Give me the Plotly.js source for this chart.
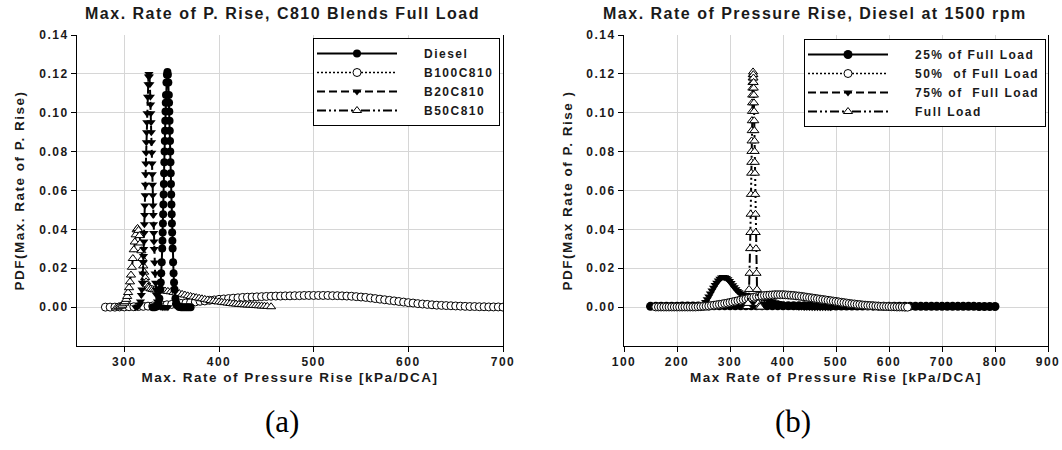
<!DOCTYPE html>
<html><head><meta charset="utf-8">
<script src="https://cdn.plot.ly/plotly-3.0.1.min.js"></script>
<style>
html,body{margin:0;padding:0;background:#fff;}
#chart{width:1062px;height:450px;}
svg text{letter-spacing:1.5px;}
</style></head><body><div id="chart"></div><script>
// ---------- (a) C810 blends, full load ----------
const dieselX = [330,332,334,336,337,338,338.5,339,339.5,340,340.25,340.5,340.75,341,341.25,341.5,341.75,342,342.25,342.5,342.75,343,343.25,343.5,343.75,344,344.5,345,345.5,346,346.5,347,347.25,347.5,347.75,348,348.25,348.5,348.75,349,349.25,349.5,349.75,350,350.25,350.5,350.75,351,351.5,352,352.5,353,354,355,356,358,360,362,364,366,368,370];
const dieselY = [0,0,0.0003,0.0019,0.0044,0.0091,0.0127,0.0174,0.0231,0.0301,0.0341,0.0384,0.0430,0.0478,0.0528,0.0580,0.0634,0.0689,0.0745,0.0801,0.0855,0.0908,0.0959,0.1007,0.1051,0.1091,0.1156,0.1196,0.1210,0.1196,0.1156,0.1091,0.1051,0.1007,0.0959,0.0908,0.0855,0.0801,0.0745,0.0689,0.0634,0.0580,0.0528,0.0478,0.0430,0.0384,0.0341,0.0301,0.0231,0.0174,0.0127,0.0091,0.0044,0.0019,0.0008,0.0001,0,0,0,0,0,0];

const b100X = [280,285,290,295,300,305,310,315,320,325,330,335,340,345,350,355,360,365,370,375,380,385,390,395,400,405,410,415,420,425,430,435,440,445,450,455,460,465,470,475,480,485,490,495,500,505,510,515,520,525,530,535,540,545,550,555,560,565,570,575,580,585,590,595,600,605,610,615,620,625,630,635,640,645,650,655,660,665,670,675,680,685,690,695,700];
const b100Y = [0,0,0,0.0001,0.0001,0.0002,0.0002,0.0003,0.0004,0.0005,0.0006,0.0008,0.0010,0.0012,0.0014,0.0016,0.0019,0.0021,0.0024,0.0027,0.0030,0.0032,0.0035,0.0037,0.0040,0.0042,0.0044,0.0046,0.0048,0.0050,0.0051,0.0052,0.0053,0.0054,0.0055,0.0056,0.0057,0.0057,0.0058,0.0058,0.0059,0.0059,0.0060,0.0060,0.0060,0.0060,0.0060,0.0060,0.0059,0.0059,0.0058,0.0057,0.0056,0.0054,0.0052,0.0050,0.0047,0.0044,0.0041,0.0038,0.0035,0.0032,0.0029,0.0026,0.0023,0.0021,0.0018,0.0016,0.0014,0.0012,0.0010,0.0009,0.0008,0.0007,0.0006,0.0005,0.0004,0.0003,0.0003,0.0002,0.0002,0.0001,0.0001,0.0001,0];

const b20X = [312,314,316,317,318,318.5,319,319.5,320,320.25,320.5,320.75,321,321.25,321.5,321.75,322,322.25,322.5,322.75,323,323.25,323.5,323.75,324,324.5,325,325.5,326,326.5,327,327.5,327.75,328,328.25,328.5,328.75,329,329.25,329.5,329.75,330,330.25,330.5,330.75,331,331.25,331.5,332,332.5,333,333.5,334,335,336,338,340,342,344,346];
const b20Y = [0,0.0002,0.0012,0.0029,0.0063,0.0091,0.0126,0.0173,0.0229,0.0263,0.0299,0.0338,0.0381,0.0426,0.0474,0.0523,0.0576,0.0629,0.0684,0.0739,0.0794,0.0848,0.0900,0.0951,0.0998,0.1082,0.1146,0.1187,0.1200,0.1187,0.1146,0.1082,0.1043,0.0998,0.0951,0.0900,0.0848,0.0794,0.0739,0.0684,0.0629,0.0576,0.0523,0.0474,0.0426,0.0381,0.0338,0.0299,0.0229,0.0173,0.0126,0.0091,0.0063,0.0029,0.0012,0.0002,0,0,0,0];

const b50X = [292,294,296,298,300,301,302,303,304,305,306,307,308,309,310,311,312,313,314,315,316,317,318,319,320,321,322,323,324,325,326,328,330,332,334,336,338,340,343,346,349,352,355,358,361,364,367,370,373,376,379,382,385,388,391,394,397,400,403,406,409,412,415,418,421,424,427,430,433,436,439,442,445,448,451,455];
const b50Y = [0,0.0002,0.0005,0.0010,0.0020,0.0028,0.0040,0.0055,0.0075,0.0100,0.0130,0.0165,0.0205,0.0250,0.0295,0.0335,0.0372,0.0398,0.0405,0.0395,0.0368,0.0330,0.0290,0.0250,0.0212,0.0180,0.0152,0.0130,0.0115,0.0104,0.0098,0.0094,0.0091,0.0089,0.0088,0.0087,0.0086,0.0085,0.0083,0.0081,0.0079,0.0076,0.0073,0.0070,0.0066,0.0062,0.0058,0.0055,0.0052,0.0049,0.0046,0.0043,0.0040,0.0037,0.0034,0.0031,0.0029,0.0027,0.0025,0.0023,0.0021,0.0019,0.0017,0.0016,0.0014,0.0013,0.0012,0.0011,0.0010,0.0009,0.0008,0.0007,0.0006,0.0005,0.0004,0.0002];

// ---------- (b) Diesel at 1500 rpm ----------
const q25X = [150,160,170,180,190,200,210,220,230,240,250,260,270,280,290,300,310,320,330,340,350,360,370,380,390,400,410,420,430,440,450,460,470,480,490,500,510,520,530,540,550,560,570,580,590,600,610,620,630,640,650,660,670,680,690,700,710,720,730,740,750,760,770,780,790,800];
const q25Y = [0.0004,0.0004,0.0005,0.0005,0.0005,0.0005,0.0006,0.0006,0.0006,0.0006,0.0006,0.0006,0.0007,0.0007,0.0007,0.0007,0.0007,0.0007,0.0007,0.0007,0.0007,0.0007,0.0007,0.0007,0.0007,0.0007,0.0007,0.0007,0.0007,0.0007,0.0007,0.0007,0.0007,0.0007,0.0006,0.0006,0.0006,0.0006,0.0006,0.0006,0.0006,0.0006,0.0005,0.0005,0.0005,0.0005,0.0005,0.0005,0.0005,0.0005,0.0004,0.0004,0.0004,0.0004,0.0004,0.0004,0.0004,0.0004,0.0004,0.0004,0.0004,0.0004,0.0003,0.0003,0.0003,0.0003];

const q50X = [160,165,170,175,180,185,190,195,200,205,210,215,220,225,230,235,240,245,250,255,260,265,270,275,280,285,290,295,300,305,310,315,320,325,330,335,340,345,350,355,360,365,370,375,380,385,390,395,400,405,410,415,420,425,430,435,440,445,450,455,460,465,470,475,480,485,490,495,500,505,510,515,520,525,530,535,540,545,550,555,560,565,570,575,580,585,590,595,600,605,610,615,620,625,630,635];
const q50Y = [0.0001,0.0001,0.0001,0.0001,0.0001,0.0001,0.0001,0.0001,0.0001,0.0001,0.0001,0.0001,0.0001,0.0001,0.0001,0.0001,0.0002,0.0003,0.0004,0.0005,0.0006,0.0008,0.0010,0.0012,0.0014,0.0016,0.0019,0.0021,0.0024,0.0027,0.0030,0.0033,0.0036,0.0039,0.0042,0.0045,0.0048,0.0051,0.0054,0.0056,0.0058,0.0060,0.0061,0.0062,0.0063,0.0064,0.0064,0.0064,0.0064,0.0063,0.0062,0.0061,0.0060,0.0058,0.0057,0.0055,0.0053,0.0051,0.0049,0.0047,0.0045,0.0043,0.0041,0.0039,0.0037,0.0035,0.0033,0.0031,0.0029,0.0027,0.0025,0.0023,0.0021,0.0019,0.0017,0.0016,0.0014,0.0013,0.0011,0.0010,0.0009,0.0008,0.0007,0.0006,0.0005,0.0004,0.0004,0.0003,0.0003,0.0002,0.0002,0.0001,0.0001,0.0001,0,0];

const q75X = [245,248,251,254,257,260,263,266,269,272,275,278,281,284,287,290,293,296,299,302,305,308,311,314,317,320,323,326,329,332,335,338,341,344,347,350,355,360,365,370,375,380,385,390,395,400,405,410,415,420,425,430,435,440,445,450,455,460,465,470,475,480,485,490];
const q75Y = [0,0.0005,0.0015,0.0027,0.0040,0.0055,0.0070,0.0085,0.0100,0.0114,0.0126,0.0137,0.0146,0.0152,0.0155,0.0154,0.0150,0.0143,0.0134,0.0124,0.0113,0.0102,0.0092,0.0083,0.0076,0.0070,0.0066,0.0063,0.0061,0.0060,0.0059,0.0058,0.0057,0.0056,0.0055,0.0054,0.0051,0.0048,0.0044,0.0040,0.0035,0.0030,0.0025,0.0021,0.0017,0.0013,0.0010,0.0007,0.0005,0.0004,0.0003,0.0002,0.0002,0.0001,0.0001,0.0001,0,0,0,0,0,0,0,0];

const fullX = [332,334,336,337,338,338.5,339,339.5,340,340.25,340.5,340.75,341,341.25,341.5,341.75,342,342.25,342.5,342.75,343,343.5,344,344.25,344.5,344.75,345,345.25,345.5,345.75,346,346.25,346.5,346.75,347,347.5,348,348.5,349,350,351,353,355,357];
const fullY = [0.0003,0.0019,0.0091,0.0174,0.0301,0.0384,0.0478,0.0580,0.0689,0.0745,0.0801,0.0855,0.0908,0.0959,0.1007,0.1051,0.1091,0.1127,0.1156,0.1179,0.1196,0.1210,0.1196,0.1179,0.1156,0.1127,0.1091,0.1051,0.1007,0.0959,0.0908,0.0855,0.0801,0.0745,0.0689,0.0580,0.0478,0.0384,0.0301,0.0174,0.0091,0.0019,0.0003,0];

const namesA = ['Diesel','B100C810','B20C810','B50C810'];
const namesB = ['25% of Full Load','50%  of Full Load','75% of  Full Load','Full Load'];
const yTicks = [0,0.02,0.04,0.06,0.08,0.10,0.12,0.14];
const xTicksA = [300,400,500,600,700];
const xTicksB = [100,200,300,400,500,600,700,800,900];

const F = '"Liberation Sans", Arial, sans-serif';
const bold = (s)=>({family:F,size:s,color:'#1a1a1a',weight:'bold'});
const solidCircle = {symbol:'circle',size:8,color:'#000'};
const openCircle = {symbol:'circle',size:8,color:'#fff',line:{color:'#000',width:1}};
const downTri = {symbol:'triangle-down',size:8,color:'#000'};
const upTri = {symbol:'triangle-up',size:8,color:'#fff',line:{color:'#000',width:1}};
const DOT='2px,2px', DASH='8px,4px', DASHDOTDOT='9px,3px,2px,3px,2px,3px';

function tr(x,y,name,xa,ya,leg,rank,dash,marker,lw){
  return {x:x,y:y,name:name,xaxis:xa,yaxis:ya,legend:leg,legendrank:rank,type:'scatter',mode:'lines+markers',
    line:{color:'#000',width:lw||2,dash:dash},marker:marker,cliponaxis:true};
}
const data = [
  tr(b100X,b100Y,namesA[1],'x','y','legend',2,DOT,openCircle,1.5),
  tr(b50X,b50Y,namesA[3],'x','y','legend',4,DASHDOTDOT,upTri),
  tr(b20X,b20Y,namesA[2],'x','y','legend',3,DASH,downTri),
  tr(dieselX,dieselY,namesA[0],'x','y','legend',1,'solid',solidCircle),
  tr(q25X,q25Y,namesB[0],'x2','y2','legend2',1,'solid',Object.assign({},solidCircle,{size:9})),
  tr(q75X,q75Y,namesB[2],'x2','y2','legend2',3,DASH,downTri),
  tr(q50X,q50Y,namesB[1],'x2','y2','legend2',2,DOT,openCircle,1.5),
  tr(fullX,fullY,namesB[3],'x2','y2','legend2',4,DASHDOTDOT,upTri)
];

const W=1062,H=450;
const px=(v)=>v/W, py=(v)=>1-v/H;
const axBase = {showline:true,linecolor:'#000',linewidth:1,ticks:'outside',ticklen:5,tickcolor:'#000',
  showgrid:true,gridcolor:'#d6d6d6',gridwidth:1,zeroline:false,tickfont:bold(12),fixedrange:true};
const legBase = {bgcolor:'#fff',bordercolor:'#000',borderwidth:1,font:bold(12),itemwidth:100,
  xanchor:'right',yanchor:'top',traceorder:'normal',tracegroupgap:0};

const layout = {
  width:W,height:H,margin:{l:0,r:0,t:0,b:0},paper_bgcolor:'#fff',plot_bgcolor:'#fff',showlegend:true,hovermode:false,
  xaxis:Object.assign({},axBase,{domain:[px(77),px(503)],range:[250,700],tickvals:xTicksA,anchor:'y',
    title:{text:'Max. Rate of Pressure Rise [kPa/DCA]',font:bold(13.5),standoff:4}}),
  yaxis:Object.assign({},axBase,{domain:[py(346),py(35)],range:[-0.02,0.14],tickvals:yTicks,tickformat:'.2f',anchor:'x',mirror:true,
    title:{text:'PDF(Max. Rate of P. Rise)',font:bold(13.5),standoff:11}}),
  xaxis2:Object.assign({},axBase,{domain:[px(624),px(1048)],range:[100,900],tickvals:xTicksB,anchor:'y2',
    title:{text:'Max Rate of Pressure Rise [kPa/DCA]',font:bold(13.5),standoff:4}}),
  yaxis2:Object.assign({},axBase,{domain:[py(346),py(35)],range:[-0.02,0.14],tickvals:yTicks,tickformat:'.2f',anchor:'x2',mirror:true,
    title:{text:'PDF(Max Rate of P. Rise )',font:bold(13.5),standoff:10}}),
  legend:Object.assign({},legBase,{x:px(500),y:py(38)}),
  legend2:Object.assign({},legBase,{x:px(1046),y:py(39)}),
  annotations:[
    {text:'Max. Rate of P. Rise, C810 Blends Full Load',xref:'paper',yref:'paper',x:px(282),y:py(14),showarrow:false,font:bold(16),xanchor:'center',yanchor:'middle'},
    {text:'Max. Rate of Pressure Rise, Diesel at 1500 rpm',xref:'paper',yref:'paper',x:px(815),y:py(14),showarrow:false,font:bold(16),xanchor:'center',yanchor:'middle'},
    {text:'<span style="letter-spacing:0px">(a)</span>',xref:'paper',yref:'paper',x:px(282),y:py(421),showarrow:false,font:{family:'"Liberation Serif", "DejaVu Serif", serif',size:31,color:'#000'},xanchor:'center',yanchor:'middle'},
    {text:'<span style="letter-spacing:0px">(b)</span>',xref:'paper',yref:'paper',x:px(793),y:py(421),showarrow:false,font:{family:'"Liberation Serif", "DejaVu Serif", serif',size:31,color:'#000'},xanchor:'center',yanchor:'middle'}
  ]
};

Plotly.newPlot('chart',data,layout,{staticPlot:true,displayModeBar:false}).then(function(gd){
  gd.querySelectorAll('g.traces').forEach(function(t){
    t.querySelectorAll('.legendlines path').forEach(function(p){p.setAttribute('d','M3,0h80');});
    t.querySelectorAll('.legendpoints path').forEach(function(p){p.setAttribute('transform','translate(43,0)');});
  });
});
</script></body></html>
